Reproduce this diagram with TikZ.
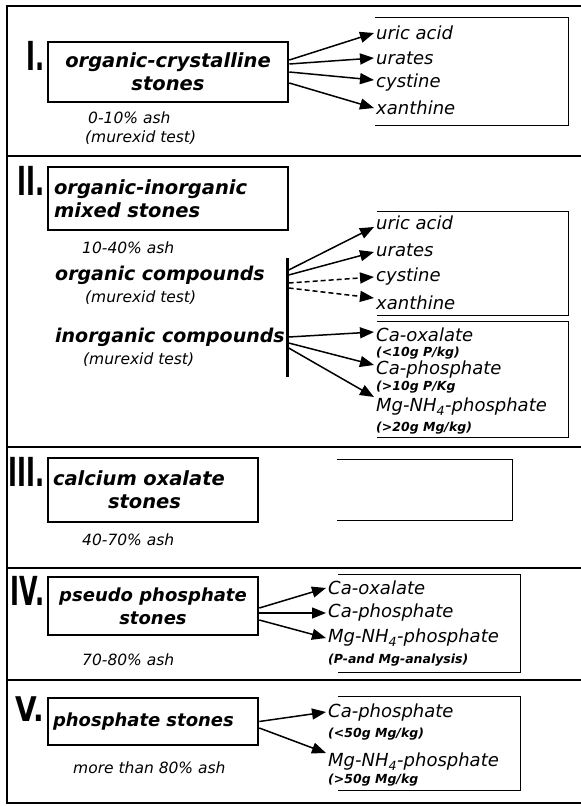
\documentclass[tikz,border=0pt]{standalone}
\usepackage{fontspec}
\setmainfont{DejaVu Sans}
\usetikzlibrary{arrows.meta,positioning,calc}

\begin{document}
\begin{tikzpicture}[x=1pt,y=-1pt,>={Triangle[length=14pt,width=11pt]},
  frame/.style={line width=2.6pt},
  stonebox/.style={draw,line width=2.6pt,inner sep=0pt,font=\fontsize{19.5}{23}\selectfont\bfseries\itshape},
  numeral/.style={anchor=north east,inner sep=0pt,xshift=-2pt,font=\fontsize{40}{40}\selectfont\bfseries},
  ash/.style={anchor=west,inner sep=0pt,font=\fontsize{15.5}{18}\selectfont\itshape},
  compound/.style={anchor=west,inner sep=0pt,font=\fontsize{19}{23}\selectfont\bfseries\itshape},
  item/.style={anchor=west,inner sep=2pt,font=\fontsize{18}{20}\selectfont\itshape},
  limit/.style={anchor=west,inner sep=2pt,font=\fontsize{12.5}{14}\selectfont\bfseries\itshape},
  listbox/.style={inner sep=0pt},
  listline/.style={line width=1.3pt},
  link/.style={->,line width=1.5pt},
  maybe/.style={->,line width=1.5pt,dash pattern=on 5pt off 3pt}]
\useasboundingbox (0,0) rectangle (581,806);

% frame and section rules
\draw[frame] (581,6) -- (7,6) -- (7,803) -- (581,803);
\foreach \y in {156,447,568,680}
  \draw[frame] (7,\y) -- (581,\y);

% I. organic-crystalline
\node[stonebox,minimum width=240pt,minimum height=60pt,align=center] (b1) at (168,72)
  {organic-crystalline\\stones};
\node[numeral] (n1) at (b1.north west) {\scalebox{0.6}[1]{I.}};
\node[ash] (a1) at (88,118) {0-10\% ash};
\node[ash] (t1) at (85,138) {(murexid test)};
\node[listbox,minimum width=193pt,minimum height=107pt] (l1) at (471.5,71.5) {};
\draw[listline] (l1.north west) -- (l1.north east) -- (l1.south east) -- (l1.south west);
\node[item] (u1) at (374,33) {uric acid};
\node[item] (r1) at (374,58) {urates};
\node[item] (c1) at (374,83) {cystine};
\node[item] (x1) at (374,108) {xanthine};
\draw[link] ([yshift=12pt]b1.east) -- (u1.west);
\draw[link] ([yshift=8pt]b1.east) -- (r1.west);
\draw[link] (b1.east) -- ([yshift=3pt]c1.west);
\draw[link] ([yshift=-11pt]b1.east) -- (x1.west);

% II. organic-inorganic mixed
\node[stonebox,minimum width=240pt,minimum height=63pt,text width=228pt,align=left] (b2) at (168,198.5)
  {organic-inorganic\\mixed stones};
\node[numeral] (n2) at (b2.north west) {\scalebox{0.6}[1]{II.}};
\node[ash] (a2) at (82,248) {10-40\% ash};
\node[compound] (oc) at (55,275) {organic compounds};
\node[ash] (t2) at (85,298) {(murexid test)};
\node[compound] (ic) at (55,337) {inorganic compounds};
\node[ash] (t3) at (83,360) {(murexid test)};
\node[fill,inner sep=0pt,minimum width=3pt,minimum height=119pt] (bar) at (287,317.5) {};
\node[listbox,minimum width=191pt,minimum height=103pt] (l2) at (472.5,263.5) {};
\draw[listline] (l2.north west) -- (l2.north east) -- (l2.south east) -- (l2.south west);
\node[item] (u2) at (374,223) {uric acid};
\node[item] (r2) at (374,250) {urates};
\node[item] (c2) at (374,277) {cystine};
\node[item] (x2) at (374,303) {xanthine};
\node[listbox,minimum width=191pt,minimum height=115pt] (l3) at (472.5,379.5) {};
\draw[listline] (l3.north west) -- (l3.north east) -- (l3.south east) -- (l3.south west);
\node[item] (o2) at (374,335) {Ca-oxalate};
\node[limit] (o2l) at (374,353) {(<10g P/kg)};
\node[item] (p2) at (374,370) {Ca-phosphate};
\node[limit] (p2l) at (374,387) {(>10g P/Kg};
\node[item] (m2) at (374,407) {Mg-NH\textsubscript{4}-phosphate};
\node[limit] (m2l) at (374,428) {(>20g Mg/kg)};
\draw[link] ([yshift=47.5pt]bar.east) -- ([yshift=-4pt]u2.west);
\draw[link] ([yshift=42.5pt]bar.east) -- ([yshift=-2pt]r2.west);
\draw[maybe] ([yshift=34.5pt]bar.east) -- (c2.west);
\draw[maybe] ([yshift=29.5pt]bar.east) -- ([yshift=5pt]x2.west);
\draw[link] ([yshift=-19.5pt]bar.east) -- ([yshift=3pt]o2.west);
\draw[link] ([yshift=-25.5pt]bar.east) -- ([yshift=5pt]p2.west);
\draw[link] ([yshift=-30.5pt]bar.east) -- ([yshift=10pt]m2.west);

% III. calcium oxalate
\node[stonebox,minimum width=210pt,minimum height=64pt,text width=200pt,align=left] (b3) at (153,490)
  {calcium oxalate\\\hspace*{55pt}stones};
\node[numeral] (n3) at (b3.north west) {\scalebox{0.6}[1]{III.}};
\node[ash] (a4) at (82,540) {40-70\% ash};
\node[listbox,minimum width=175pt,minimum height=60pt] (l4) at (424.5,490) {};
\draw[listline] (l4.north west) -- (l4.north east) -- (l4.south east) -- (l4.south west);

% IV. pseudo phosphate
\node[stonebox,minimum width=210pt,minimum height=58pt,align=center,font=\fontsize{18}{23}\selectfont\bfseries\itshape] (b4) at (153,606)
  {pseudo phosphate\\stones};
\node[numeral] (n4) at (b4.north west) {\scalebox{0.6}[1]{IV.}};
\node[ash] (a5) at (82,660) {70-80\% ash};
\node[listbox,minimum width=182pt,minimum height=97pt] (l5) at (429,623.5) {};
\draw[listline] (l5.north west) -- (l5.north east) -- (l5.south east) -- (l5.south west);
\node[item] (o4) at (326,588) {Ca-oxalate};
\node[item] (p4) at (326,613) {Ca-phosphate};
\node[item] (m4) at (326,638) {Mg-NH\textsubscript{4}-phosphate};
\node[limit] (m4l) at (326,660) {(P-and Mg-analysis)};
\draw[link] ([yshift=-2pt]b4.east) -- (o4.west);
\draw[link] ([yshift=-7pt]b4.east) -- (p4.west);
\draw[link] ([yshift=-14pt]b4.east) -- (m4.west);

% V. phosphate
\node[stonebox,minimum width=210pt,minimum height=47pt,text width=200pt,align=left,font=\fontsize{18}{23}\selectfont\bfseries\itshape] (b5) at (153,721.5)
  {phosphate stones};
\node[numeral] (n5) at (b5.north west) {\scalebox{0.7}[0.85]{V.}};
\node[ash] (a6) at (73,768) {more than 80\% ash};
\node[listbox,minimum width=182pt,minimum height=93pt] (l6) at (429,743.5) {};
\draw[listline] (l6.north west) -- (l6.north east) -- (l6.south east) -- (l6.south west);
\node[item] (p5) at (326,713) {Ca-phosphate};
\node[limit] (p5l) at (326,734) {(<50g Mg/kg)};
\node[item] (m5) at (326,762) {Mg-NH\textsubscript{4}-phosphate};
\node[limit] (m5l) at (326,780) {(>50g Mg/kg};
\draw[link] (b5.east) -- ([yshift=1pt]p5.west);
\draw[link] ([yshift=-6.5pt]b5.east) -- ([yshift=9pt]m5.west);
\end{tikzpicture}
\end{document}
